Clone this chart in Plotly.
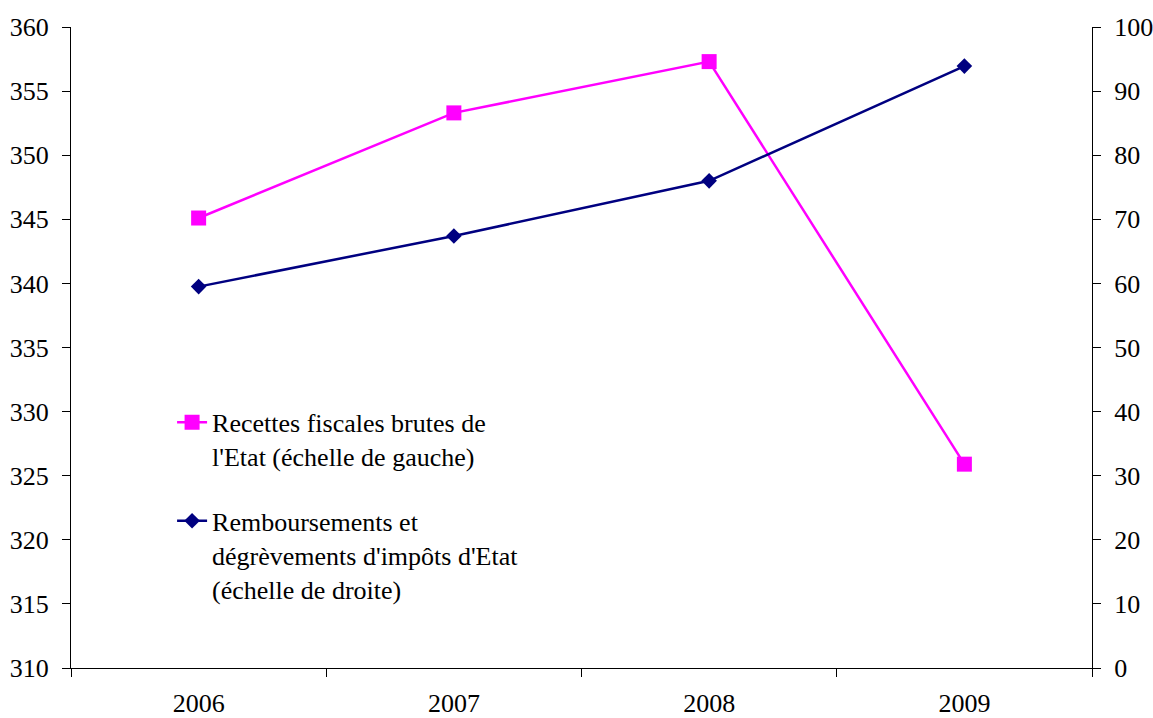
import plotly.graph_objects as go

years = ["2006", "2007", "2008", "2009"]
recettes = [345.1, 353.3, 357.3, 325.9]
remboursements = [59.5, 67.4, 76.0, 93.9]

nom_recettes = "Recettes fiscales brutes de<br>l'Etat (échelle de gauche)"
nom_remb = "Remboursements et<br>dégrèvements d'impôts d'Etat<br>(échelle de droite)"

police = dict(family="'Liberation Serif', 'Times New Roman', 'DejaVu Serif', serif", size=26, color="black")

fig = go.Figure()
fig.add_trace(go.Scatter(x=years, y=recettes, name=nom_recettes, mode="lines+markers",
                         line=dict(color="#FF00FF", width=2.5),
                         marker=dict(symbol="square", size=15, color="#FF00FF"),
                         legendgroup="a"))
fig.add_trace(go.Scatter(x=years, y=remboursements, name=nom_remb, mode="lines+markers",
                         yaxis="y2", line=dict(color="#000080", width=2.5),
                         marker=dict(symbol="diamond", size=12, color="#000080"),
                         legendgroup="b"))

axe = dict(showline=True, linecolor="black", linewidth=1, showgrid=False, zeroline=False,
           ticks="outside", ticklen=8, tickcolor="black", tickwidth=1, automargin=False)

fig.update_layout(
    width=1153, height=718,
    margin=dict(l=71, r=61, t=27, b=50),
    paper_bgcolor="white", plot_bgcolor="white",
    font=police,
    xaxis=dict(axe, type="category", tickson="boundaries", range=[-0.5, 3.5],
               ticklabelstandoff=12),
    xaxis2=dict(axe, overlaying="x", range=[-0.5, 3.5], ticks="inside",
                tickvals=[-0.5, 0.5, 1.5, 2.5, 3.5], showticklabels=False, showline=False),
    yaxis=dict(axe, range=[310, 360], dtick=5, ticklabelstandoff=8),
    yaxis2=dict(axe, range=[0, 100], dtick=10, side="right", overlaying="y",
                ticklabelstandoff=8),
    yaxis3=dict(axe, range=[310, 360], dtick=5, overlaying="y", ticks="inside",
                showticklabels=False, showline=False),
    yaxis4=dict(axe, range=[0, 100], dtick=10, side="right", overlaying="y", ticks="inside",
                showticklabels=False, showline=False),
    legend=dict(x=0.099, y=0.42, xanchor="left", yanchor="top", bgcolor="rgba(0,0,0,0)",
                traceorder="grouped", tracegroupgap=28, valign="top", font=police),
    showlegend=True,
)

fig.write_html("out.html", config={"displayModeBar": False},
               post_script="document.body.style.margin='0';")
